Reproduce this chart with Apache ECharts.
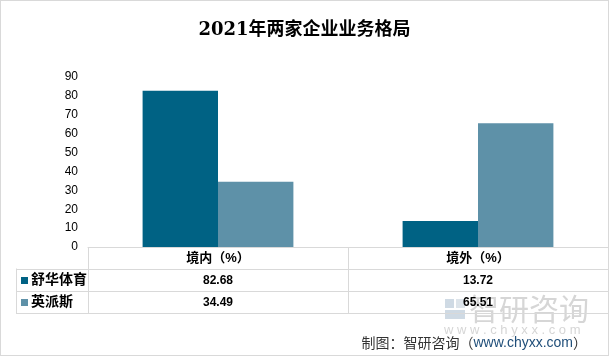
<!DOCTYPE html>
<html>
<head>
<meta charset="utf-8">
<script src="https://cdn.jsdelivr.net/npm/echarts@6/dist/echarts.min.js"></script>
<style>
html,body{margin:0;padding:0;background:#fff;}
#main{width:609px;height:356px;box-sizing:border-box;border:1px solid #d9d9d9;}
</style>
</head>
<body>
<div id="main"></div>
<script>
var titleText = '2021年两家企业业务格局';
var categories = ['境内（%）', '境外（%）'];
var seriesNames = ['舒华体育', '英派斯'];
var shuhuaValues = [82.68, 13.72];
var impulseValues = [34.49, 65.51];
var tableTexts = [['82.68', '13.72'], ['34.49', '65.51']];
var colors = ['#006284', '#5E91A8'];

var chart = echarts.init(document.getElementById('main'), null, {renderer: 'canvas'});
var font = '"Liberation Sans", "Noto Sans CJK SC", sans-serif';

var option = {
  animation: false,
  backgroundColor: '#ffffff',
  title: {
    text: titleText, left: 'center', top: 15,
    textStyle: {fontFamily: '"DejaVu Serif", "Noto Sans CJK SC", serif', fontSize: 18, fontWeight: 'bold', color: '#000'}
  },
  grid: {left: 87, right: 0, top: 76, bottom: 108},
  xAxis: {
    type: 'category', data: categories,
    axisLine: {lineStyle: {color: '#d9d9d9'}},
    axisTick: {show: false}, axisLabel: {show: false}
  },
  yAxis: {
    type: 'value', min: 0, max: 90, interval: 10,
    splitLine: {show: false}, axisLine: {show: false}, axisTick: {show: false},
    axisLabel: {margin: 10, color: '#000', fontSize: 12, fontFamily: font}
  },
  series: [
    {name: seriesNames[0], type: 'bar', data: shuhuaValues, barGap: '0%', barCategoryGap: '42%', itemStyle: {color: colors[0]}},
    {name: seriesNames[1], type: 'bar', data: impulseValues, barGap: '0%', barCategoryGap: '42%', itemStyle: {color: colors[1]}}
  ]
};
chart.setOption(option);

var y0 = chart.convertToPixel({yAxisIndex: 0}, 0);
var rowsY = [y0, y0 + 21.5, y0 + 44, y0 + 66];
var xLeftLabel = 15, xPlotLeft = 87, xRight = 607;
var xMid = (chart.convertToPixel({xAxisIndex: 0}, categories[0]) + chart.convertToPixel({xAxisIndex: 0}, categories[1])) / 2;
var lineStyle = {stroke: '#d9d9d9', lineWidth: 1};
var g = [];
// watermark (drawn first, under the table)
g.push({type: 'rect', shape: {x: 444, y: 298, width: 9, height: 9}, style: {fill: '#cfdae4'}, z: 0});
g.push({type: 'rect', shape: {x: 455, y: 298, width: 9, height: 9}, style: {fill: '#dde4ea'}, z: 0});
g.push({type: 'rect', shape: {x: 444, y: 309, width: 20, height: 9}, style: {fill: '#cfdae4'}, z: 0});
g.push({type: 'text', x: 468, y: 308, z: 0, style: {text: '智研咨询', fill: '#d6d6d6', font: '30px "Noto Sans CJK SC", sans-serif', textAlign: 'left', textVerticalAlign: 'middle'}});
g.push({type: 'text', x: 443, y: 329, z: 0, style: {text: 'w w w . c h y x x . c o m', fill: '#d6d6d6', font: '13px ' + font, textAlign: 'left', textVerticalAlign: 'middle'}});

function hline(x1, x2, y) { g.push({type: 'line', z: 5, shape: {x1: x1, y1: Math.round(y) + 0.5, x2: x2, y2: Math.round(y) + 0.5}, style: lineStyle, silent: true}); }
function vline(x, y1, y2) { g.push({type: 'line', z: 5, shape: {x1: Math.round(x) + 0.5, y1: y1, x2: Math.round(x) + 0.5, y2: y2}, style: lineStyle, silent: true}); }
hline(xLeftLabel, xRight, rowsY[1]);
hline(xLeftLabel, xRight, rowsY[2]);
hline(xLeftLabel, xRight, rowsY[3]);
vline(xLeftLabel, rowsY[1], rowsY[3]);
vline(xPlotLeft, rowsY[0], rowsY[3]);
vline(xMid, rowsY[0], rowsY[3]);
vline(xRight, rowsY[0], rowsY[3]);
categories.forEach(function (c) {
  var cx = chart.convertToPixel({xAxisIndex: 0}, c);
  g.push({type: 'text', z: 10, x: cx, y: (rowsY[0] + rowsY[1]) / 2 + 1, style: {text: c, fill: '#000', font: 'bold 13px ' + font, textAlign: 'center', textVerticalAlign: 'middle'}});
});
seriesNames.forEach(function (name, i) {
  var cy = (rowsY[i + 1] + rowsY[i + 2]) / 2;
  g.push({type: 'rect', z: 10, shape: {x: 20, y: Math.round(cy) - 3, width: 7, height: 7}, style: {fill: colors[i]}});
  g.push({type: 'text', z: 10, x: 30, y: cy, style: {text: name, fill: '#000', font: 'bold 14px ' + font, textAlign: 'left', textVerticalAlign: 'middle'}});
  categories.forEach(function (c, j) {
    var cx = chart.convertToPixel({xAxisIndex: 0}, c);
    g.push({type: 'text', z: 10, x: cx, y: cy + 1, style: {text: tableTexts[i][j], fill: '#000', font: 'bold 12px ' + font, textAlign: 'center', textVerticalAlign: 'middle'}});
  });
});
// source
g.push({type: 'text', z: 10, x: 586, y: 342, style: {
  rich: {a: {fill: '#333', font: '14px "Noto Sans CJK SC", sans-serif'}, b: {fill: '#1f4e79', font: '14px ' + font}},
  text: '{a|制图：智研咨询（}{b|www.chyxx.com}{a|）}', textAlign: 'right', textVerticalAlign: 'middle'}});
chart.setOption({graphic: g});
</script>
</body>
</html>
